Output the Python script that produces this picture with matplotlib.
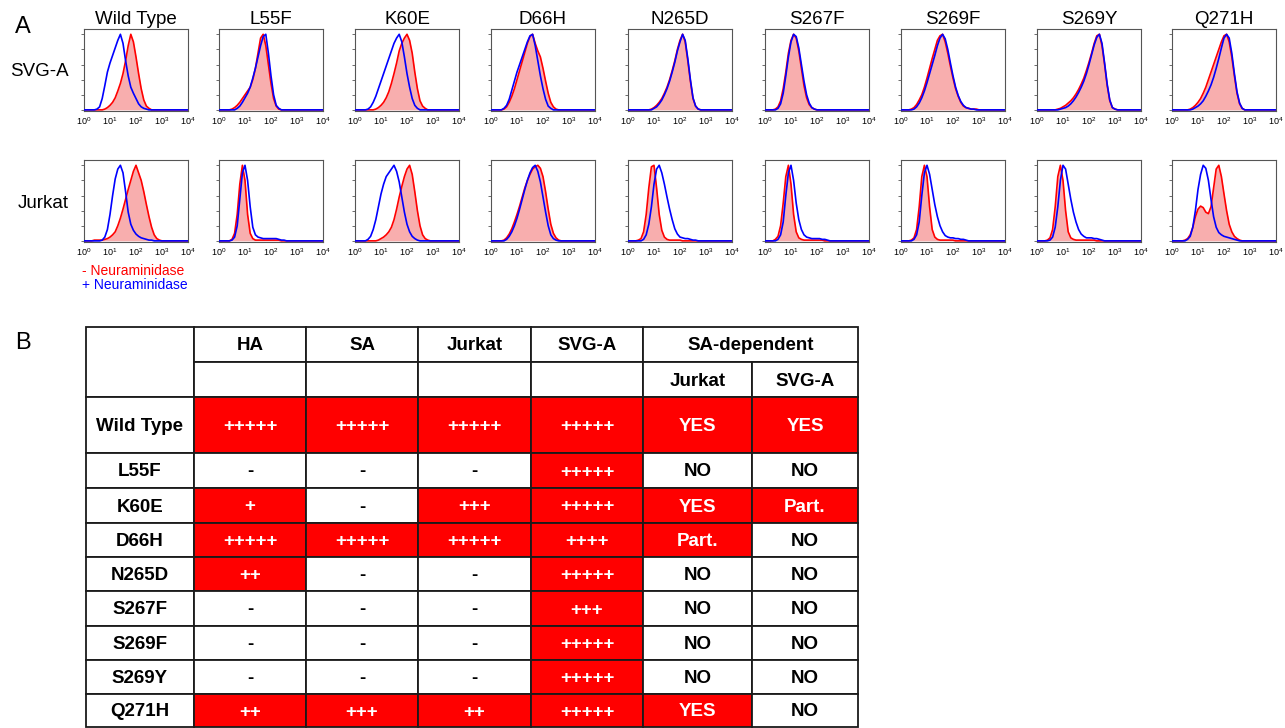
import matplotlib
matplotlib.use('Agg')
import matplotlib.pyplot as plt
import numpy as np
from matplotlib.patches import Rectangle

plt.rcParams['font.family'] = ['Liberation Sans', 'DejaVu Sans']
plt.rcParams['mathtext.fontset'] = 'custom'
plt.rcParams['mathtext.rm'] = 'Liberation Sans'
plt.rcParams['mathtext.it'] = 'Liberation Sans:italic'
plt.rcParams['mathtext.bf'] = 'Liberation Sans:bold'

# ---------------- data ----------------
mutants = ['Wild Type', 'L55F', 'K60E', 'D66H', 'N265D', 'S267F', 'S269F', 'S269Y', 'Q271H']
cell_lines = ['SVG-A', 'Jurkat']
tick_labels = [r'$10^{0}$', r'$10^{1}$', r'$10^{2}$', r'$10^{3}$', r'$10^{4}$']
log_bins = np.linspace(0, 4, 41)   # log10 fluorescence bin centres

# SVG-A histograms (% of max), "-" = without neuraminidase, "+" = with
svg_wt_minus    = [0,0,0,0,0,0,0,0,1,3, 6,10,16,25,35,48,65,85,100,90, 70,48,28,13,5,2,0,0,0,0, 0,0,0,0,0,0,0,0,0,0,0]
svg_wt_plus     = [0,0,0,0,0,1,4,15,32,50, 62,72,82,92,100,88,65,45,30,22, 15,8,4,2,1,0,0,0,0,0, 0,0,0,0,0,0,0,0,0,0,0]
svg_l55f_minus  = [0,0,0,0,0,1,3,6,10,15, 20,25,30,40,55,75,95,100,85,60, 35,15,5,1,0,0,0,0,0,0, 0,0,0,0,0,0,0,0,0,0,0]
svg_l55f_plus   = [0,0,0,0,0,0,0,2,5,10, 16,22,30,42,55,70,85,97,100,75, 45,20,6,2,0,0,0,0,0,0, 0,0,0,0,0,0,0,0,0,0,0]
svg_k60e_minus  = [0,0,0,0,0,0,0,0,1,3, 6,10,16,24,35,48,62,78,88,95, 100,92,75,50,28,12,5,2,0,0, 0,0,0,0,0,0,0,0,0,0,0]
svg_k60e_plus   = [0,0,0,0,0,1,4,10,18,28, 38,48,58,68,78,88,95,100,90,70, 48,30,15,6,2,0,0,0,0,0, 0,0,0,0,0,0,0,0,0,0,0]
svg_d66h_minus  = [0,0,0,0,0,1,4,10,18,28, 40,52,64,76,88,97,100,88,78,70, 55,38,22,10,4,1,0,0,0,0, 0,0,0,0,0,0,0,0,0,0,0]
svg_d66h_plus   = [0,0,0,0,0,2,6,14,26,38, 50,60,70,80,90,98,100,85,65,45, 28,14,5,2,0,0,0,0,0,0, 0,0,0,0,0,0,0,0,0,0,0]
svg_n265d_minus = [0,0,0,0,0,0,0,0,0,1, 3,6,10,15,22,30,40,52,65,80, 92,100,90,65,38,15,5,1,0,0, 0,0,0,0,0,0,0,0,0,0,0]
svg_n265d_plus  = [0,0,0,0,0,0,0,0,0,0, 2,4,8,13,20,28,38,50,63,78, 90,100,92,68,40,16,5,1,0,0, 0,0,0,0,0,0,0,0,0,0,0]
svg_s267f_minus = [0,0,0,0,1,4,12,28,50,75, 92,100,95,78,55,32,16,7,3,1, 0,0,0,0,0,0,0,0,0,0, 0,0,0,0,0,0,0,0,0,0,0]
svg_s267f_plus  = [0,0,0,0,0,2,8,22,45,70, 90,100,97,82,60,38,20,9,3,1, 0,0,0,0,0,0,0,0,0,0, 0,0,0,0,0,0,0,0,0,0,0]
svg_s269f_minus = [0,0,0,0,1,3,7,13,20,30, 42,55,68,80,92,98,100,90,75,58, 42,28,18,10,5,3,2,1,1,1, 0,0,0,0,0,0,0,0,0,0,0]
svg_s269f_plus  = [0,0,0,0,0,1,4,9,16,25, 36,48,60,72,85,95,100,94,80,62, 45,30,19,11,6,3,2,1,1,0, 0,0,0,0,0,0,0,0,0,0,0]
svg_s269y_minus = [0,0,0,0,0,0,0,0,1,2, 4,6,9,12,16,21,27,34,42,52, 63,75,88,98,100,85,60,32,12,3, 1,0,0,0,0,0,0,0,0,0,0]
svg_s269y_plus  = [0,0,0,0,0,0,0,0,0,1, 2,3,5,8,12,17,23,30,38,48, 60,73,86,96,100,88,62,34,13,3, 1,0,0,0,0,0,0,0,0,0,0]
svg_q271h_minus = [0,0,0,0,0,0,0,1,3,6, 10,15,22,30,40,50,60,70,80,90, 98,100,90,70,45,22,8,2,0,0, 0,0,0,0,0,0,0,0,0,0,0]
svg_q271h_plus  = [0,0,0,0,0,0,0,0,1,3, 5,8,12,18,25,33,43,55,68,82, 95,100,95,75,48,24,9,2,0,0, 0,0,0,0,0,0,0,0,0,0,0]

# Jurkat histograms
jur_wt_minus    = [0,0,0,0,1,1,1,1,2,3, 5,8,12,20,30,42,55,68,80,92, 100,90,80,65,48,32,18,8,3,1, 0,0,0,0,0,0,0,0,0,0,0]
jur_wt_plus     = [0,0,0,0,0,0,0,1,5,15, 35,60,82,95,100,90,65,38,22,14, 9,6,4,3,2,1,1,0,0,0, 0,0,0,0,0,0,0,0,0,0,0]
jur_l55f_minus  = [0,0,0,0,0,2,10,35,75,100, 80,35,10,3,1,1,1,1,1,1, 1,1,1,1,0,0,0,0,0,0, 0,0,0,0,0,0,0,0,0,0,0]
jur_l55f_plus   = [0,0,0,0,0,1,5,20,55,90, 100,80,45,18,8,5,4,3,3,3, 3,3,3,2,1,1,0,0,0,0, 0,0,0,0,0,0,0,0,0,0,0]
jur_k60e_minus  = [0,0,0,0,0,0,0,0,0,1, 3,5,8,12,18,28,42,58,72,85, 95,100,88,65,40,20,8,3,1,0, 0,0,0,0,0,0,0,0,0,0,0]
jur_k60e_plus   = [0,0,0,0,0,2,6,15,28,45, 62,75,85,90,95,100,92,78,58,38, 22,12,6,3,1,0,0,0,0,0, 0,0,0,0,0,0,0,0,0,0,0]
jur_d66h_minus  = [0,0,0,0,0,1,4,9,16,25, 35,46,58,70,80,88,95,98,100,96, 85,65,42,22,10,4,1,0,0,0, 0,0,0,0,0,0,0,0,0,0,0]
jur_d66h_plus   = [0,0,0,0,0,0,2,6,12,20, 30,42,55,68,80,90,97,100,92,78, 58,38,20,8,3,1,0,0,0,0, 0,0,0,0,0,0,0,0,0,0,0]
jur_n265d_minus = [0,0,0,0,1,3,12,35,70,98, 100,70,35,14,5,2,1,1,1,1, 1,0,0,0,0,0,0,0,0,0, 0,0,0,0,0,0,0,0,0,0,0]
jur_n265d_plus  = [0,0,0,0,0,0,2,8,22,45, 75,95,100,90,75,58,42,28,16,9, 5,4,3,3,2,1,1,0,0,0, 0,0,0,0,0,0,0,0,0,0,0]
jur_s267f_minus = [0,0,0,0,2,6,20,50,85,100, 75,35,12,4,2,1,1,1,1,1, 1,1,1,0,0,0,0,0,0,0, 0,0,0,0,0,0,0,0,0,0,0]
jur_s267f_plus  = [0,0,0,0,0,2,8,25,60,90, 100,80,50,28,15,8,5,4,3,3, 3,3,2,2,1,0,0,0,0,0, 0,0,0,0,0,0,0,0,0,0,0]
jur_s269f_minus = [0,0,0,0,1,4,15,45,85,100, 85,45,15,5,2,1,1,1,1,1, 1,0,0,0,0,0,0,0,0,0, 0,0,0,0,0,0,0,0,0,0,0]
jur_s269f_plus  = [0,0,0,0,0,2,8,25,60,90, 100,88,68,48,32,20,12,7,5,4, 4,3,3,2,2,1,0,0,0,0, 0,0,0,0,0,0,0,0,0,0,0]
jur_s269y_minus = [0,0,0,0,1,4,15,45,85,100, 80,40,12,4,2,1,1,1,1,1, 1,1,1,0,0,0,0,0,0,0, 0,0,0,0,0,0,0,0,0,0,0]
jur_s269y_plus  = [0,0,0,0,0,1,5,18,45,80, 100,95,75,55,38,25,15,9,6,4, 4,4,3,3,2,1,0,0,0,0, 0,0,0,0,0,0,0,0,0,0,0]
jur_q271h_minus = [0,0,0,0,0,1,3,8,18,32, 42,46,44,38,36,45,70,95,100,85, 62,40,22,12,6,3,1,0,0,0, 0,0,0,0,0,0,0,0,0,0,0]
jur_q271h_plus  = [0,0,0,0,0,0,2,6,18,40, 68,88,100,96,80,55,32,18,11,8, 6,5,4,3,2,1,0,0,0,0, 0,0,0,0,0,0,0,0,0,0,0]

# table B
table_rows = ['Wild Type', 'L55F', 'K60E', 'D66H', 'N265D', 'S267F', 'S269F', 'S269Y', 'Q271H']
ha_binding     = ['+++++', '-', '+', '+++++', '++', '-', '-', '-', '++']
sa_binding     = ['+++++', '-', '-', '+++++', '-', '-', '-', '-', '+++']
jurkat_binding = ['+++++', '-', '+++', '+++++', '-', '-', '-', '-', '++']
svga_binding   = ['+++++', '+++++', '+++++', '++++', '+++++', '+++', '+++++', '+++++', '+++++']
sa_dep_jurkat  = ['YES', 'NO', 'YES', 'Part.', 'NO', 'NO', 'NO', 'NO', 'YES']
sa_dep_svga    = ['YES', 'NO', 'Part.', 'NO', 'NO', 'NO', 'NO', 'NO', 'NO']

svg_curves = [(svg_wt_minus, svg_wt_plus), (svg_l55f_minus, svg_l55f_plus),
              (svg_k60e_minus, svg_k60e_plus), (svg_d66h_minus, svg_d66h_plus),
              (svg_n265d_minus, svg_n265d_plus), (svg_s267f_minus, svg_s267f_plus),
              (svg_s269f_minus, svg_s269f_plus), (svg_s269y_minus, svg_s269y_plus),
              (svg_q271h_minus, svg_q271h_plus)]
jur_curves = [(jur_wt_minus, jur_wt_plus), (jur_l55f_minus, jur_l55f_plus),
              (jur_k60e_minus, jur_k60e_plus), (jur_d66h_minus, jur_d66h_plus),
              (jur_n265d_minus, jur_n265d_plus), (jur_s267f_minus, jur_s267f_plus),
              (jur_s269f_minus, jur_s269f_plus), (jur_s269y_minus, jur_s269y_plus),
              (jur_q271h_minus, jur_q271h_plus)]

# ---------------- layout ----------------
W, H = 1285, 728
fig = plt.figure(figsize=(W / 100, H / 100), dpi=100)
fig.patch.set_facecolor('white')

def fx(x):
    return x / W

def fy(y):
    return 1 - y / H

PANEL_LEFTS = [84, 219, 355, 491, 628, 765, 901, 1037, 1172]
PANEL_W = 104
ROW_TOPS = [29, 160]
PANEL_H = 82
RED = '#FF0000'
BLUE = '#0000FF'
PINK = '#F8AEAE'

x_vals = 10 ** log_bins
for r, curves in enumerate([svg_curves, jur_curves]):
    top = ROW_TOPS[r]
    for c, (minus, plus) in enumerate(curves):
        left = PANEL_LEFTS[c]
        ax = fig.add_axes([fx(left), fy(top + PANEL_H), PANEL_W / W, PANEL_H / H])
        ax.fill_between(x_vals, minus, 0, color=PINK, lw=0, zorder=1)
        ax.plot(x_vals, minus, color=RED, lw=1.2, zorder=2)
        ax.plot(x_vals, plus, color=BLUE, lw=1.2, zorder=3)
        ax.set_xscale('log')
        ax.set_xlim(1, 1e4)
        ax.set_ylim(-1.5, 107)
        ax.set_xticks([1, 10, 100, 1000, 10000])
        ax.set_xticklabels(tick_labels)
        ax.xaxis.set_minor_locator(matplotlib.ticker.NullLocator())
        ax.tick_params(axis='x', length=0, labelsize=6.5, pad=3)
        ax.set_yticks([0, 20, 40, 60, 80, 100])
        ax.set_yticklabels([])
        ax.tick_params(axis='y', length=2, width=0.6, color='#555555', direction='out')
        for s in ax.spines.values():
            s.set_color('#555555')
            s.set_linewidth(0.8)
        if r == 0:
            fig.text(fx(left + PANEL_W / 2), fy(19), mutants[c], ha='center', va='center',
                     fontsize=13.5, color='black')

fig.text(fx(39), fy(72), cell_lines[0], ha='center', va='center', fontsize=13.5)
fig.text(fx(43), fy(203), cell_lines[1], ha='center', va='center', fontsize=13.5)
fig.text(fx(23), fy(27), 'A', ha='center', va='center', fontsize=17)
fig.text(fx(23), fy(343), 'B', ha='center', va='center', fontsize=17)
fig.text(fx(82), fy(271), '- Neuraminidase', ha='left', va='center', fontsize=10, color=RED)
fig.text(fx(82), fy(285), '+ Neuraminidase', ha='left', va='center', fontsize=10, color=BLUE)

# ---------------- table ----------------
tax = fig.add_axes([0, 0, 1, 1])
tax.set_xlim(0, W)
tax.set_ylim(H, 0)
tax.axis('off')

col_x = [86, 194, 306, 418, 531, 643, 752, 858]
row_y = [327, 362, 397, 453, 488, 523, 557, 591, 626, 660, 694, 727]
EDGE = '#1a1a1a'
LW = 1.3
FS = 13.5

def cell(x0, x1, y0, y1, text='', fill='white', tcolor='black'):
    tax.add_patch(Rectangle((x0, y0), x1 - x0, y1 - y0, facecolor=fill,
                            edgecolor=EDGE, lw=LW, zorder=1))
    if text:
        tax.text((x0 + x1) / 2, (y0 + y1) / 2 + 1.5, text, ha='center', va='center',
                 fontsize=FS, fontweight='bold', color=tcolor, zorder=2)

# header
cell(col_x[0], col_x[1], row_y[0], row_y[2])
for j, name in enumerate(['HA', 'SA', 'Jurkat', 'SVG-A']):
    cell(col_x[j + 1], col_x[j + 2], row_y[0], row_y[1], name)
    cell(col_x[j + 1], col_x[j + 2], row_y[1], row_y[2])
cell(col_x[5], col_x[7], row_y[0], row_y[1], 'SA-dependent')
cell(col_x[5], col_x[6], row_y[1], row_y[2], 'Jurkat')
cell(col_x[6], col_x[7], row_y[1], row_y[2], 'SVG-A')

columns = [ha_binding, sa_binding, jurkat_binding, svga_binding, sa_dep_jurkat, sa_dep_svga]
for i, name in enumerate(table_rows):
    y0, y1 = row_y[i + 2], row_y[i + 3]
    cell(col_x[0], col_x[1], y0, y1, name)
    for j, col in enumerate(columns):
        v = col[i]
        positive = v not in ('-', 'NO')
        cell(col_x[j + 1], col_x[j + 2], y0, y1, v,
             fill=RED if positive else 'white',
             tcolor='white' if positive else 'black')

fig.savefig('out.png', dpi=100, facecolor='white')
